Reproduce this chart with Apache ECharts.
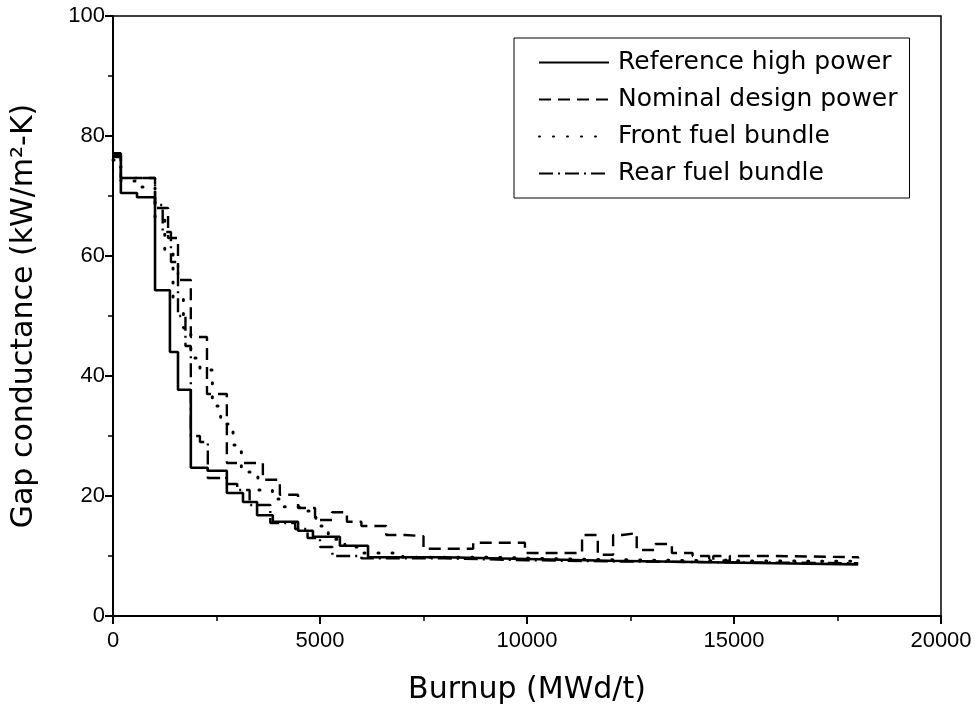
<!DOCTYPE html>
<html>
<head>
<meta charset="utf-8">
<script src="https://cdn.jsdelivr.net/npm/echarts@6/dist/echarts.min.js"></script>
<style>
html,body{margin:0;padding:0;background:#fff;}
#chart{width:977px;height:710px;}
</style>
</head>
<body>
<div id="chart"></div>
<script>
// ---- Data ----
var seriesNames = ['Reference high power', 'Nominal design power', 'Front fuel bundle', 'Rear fuel bundle'];

var refX = [0,190,580,1015,1375,1570,1880,2290,2750,3140,3480,3860,4470,4830,5480,6160,8000,10000,12000,14000,16000,18000];
var refY = [77.1,70.5,69.8,54.3,44,37.7,24.7,24.2,20.5,19,16.8,15.7,14.2,13.2,11.7,9.8,9.5,9.2,9.0,8.8,8.6,8.5];

var nomX = [0,190,1015,1330,1570,1880,2270,2750,3620,4030,4470,4880,5290,5650,6000,6600,7050,7500,8700,9950,11330,11710,12080,12300,12650,13100,13500,14000,14400,14500,14800,14900,16000,18000];
var nomY = [76.5,73,68,63,56,46.5,37,25.5,22.7,20.2,18,16,17.3,15.7,15,13.5,13.3,11.2,12.2,10.5,13.5,10.2,13.5,13.8,11,12,10.5,10,9.2,10,9.2,10,9.8,9.6];

var frontX = [0,190,600,1015,1250,1450,1700,1880,2100,2400,2600,2900,3100,3500,3850,4100,4500,4900,5200,5600,6000,7000,9000,11000,13000,15000,18000];
var frontY = [76,72.5,71.5,66,61,53,48,43,41,35,32,28.5,24,21,19.5,18.2,17.5,15,12.8,11.5,10.5,9.8,9.5,9.3,9.2,9.1,9.0];

var rearX = [0,190,1015,1200,1400,1570,1750,1880,2100,2290,2750,3000,3300,3800,4400,4700,5000,5300,6000,8000,10000,12000,14000,16000,18000];
var rearY = [76.8,73,68.5,64,59,50,45,30,29,23,22,21,18.5,15.5,14.5,13,11.5,10,9.6,9.3,9.1,9.0,8.9,8.8,8.8];

var xTicks = [0,5000,10000,15000,20000];
var yTicks = [0,20,40,60,80,100];

function zip(xs, ys){ var out=[]; for(var i=0;i<xs.length;i++){ out.push([xs[i], ys[i]]); } return out; }

var chart = echarts.init(document.getElementById('chart'), null, {renderer:'canvas'});

var tickFont = {fontFamily:'Liberation Sans, Arial, sans-serif', fontSize:22, color:'#000'};
var titleFont = {fontFamily:'DejaVu Sans, sans-serif', fontSize:30, color:'#000'};

function mkSeries(name, xs, ys, ls){
  return {
    name: name, type:'line', step:'end', symbol:'none', showSymbol:false,
    data: zip(xs, ys),
    lineStyle: ls, itemStyle:{color:'#000'}, animation:false, z: 3
  };
}

chart.setOption({
  animation:false,
  backgroundColor:'#fff',
  grid:{left:113, right:36, top:16, bottom:94, show:true, borderColor:'#000', borderWidth:1.5, backgroundColor:'transparent'},
  xAxis:{
    type:'value', min:xTicks[0], max:xTicks[xTicks.length-1], interval:5000,
    name:'Burnup (MWd/t)', nameLocation:'middle', nameGap:59, nameTextStyle:titleFont,
    axisLine:{show:true, onZero:false, lineStyle:{color:'#000', width:2}},
    axisTick:{show:true, length:8, lineStyle:{color:'#000', width:2}},
    minorTick:{show:true, splitNumber:2, length:5, lineStyle:{color:'#000', width:1.5}},
    axisLabel:{margin:14, formatter:function(v){return String(v);}, ...tickFont},
    splitLine:{show:false}
  },
  yAxis:{
    type:'value', min:yTicks[0], max:yTicks[yTicks.length-1], interval:20,
    name:'Gap conductance (kW/m²-K)', nameLocation:'middle', nameGap:74, nameRotate:90, nameTextStyle:titleFont,
    axisLine:{show:true, onZero:false, lineStyle:{color:'#000', width:2}},
    axisTick:{show:true, length:8, lineStyle:{color:'#000', width:2}},
    minorTick:{show:true, splitNumber:2, length:5, lineStyle:{color:'#000', width:1.5}},
    axisLabel:{margin:8, formatter:function(v){return String(v);}, ...tickFont},
    splitLine:{show:false}
  },
  legend:{
    orient:'vertical', left:514, top:38,
    padding:[12,12,12,24],
    itemWidth:70, itemHeight:22, itemGap:12,
    backgroundColor:'#fff', borderColor:'#000', borderWidth:1,
    itemStyle:{color:'transparent', borderWidth:0, opacity:0},
    textStyle:{fontFamily:'DejaVu Sans, sans-serif', fontSize:25, color:'#000', padding:[0,0,0,4]},
    data: seriesNames
  },
  series:[
    mkSeries(seriesNames[0], refX, refY, {color:'#000', width:2.6, type:'solid'}),
    mkSeries(seriesNames[1], nomX, nomY, {color:'#000', width:2.4, type:[12,7]}),
    mkSeries(seriesNames[2], frontX, frontY, {color:'#000', width:3, type:[1,13], cap:'round'}),
    mkSeries(seriesNames[3], rearX, rearY, {color:'#000', width:2.4, type:[14,5,2,5]})
  ]
});
</script>
</body>
</html>
